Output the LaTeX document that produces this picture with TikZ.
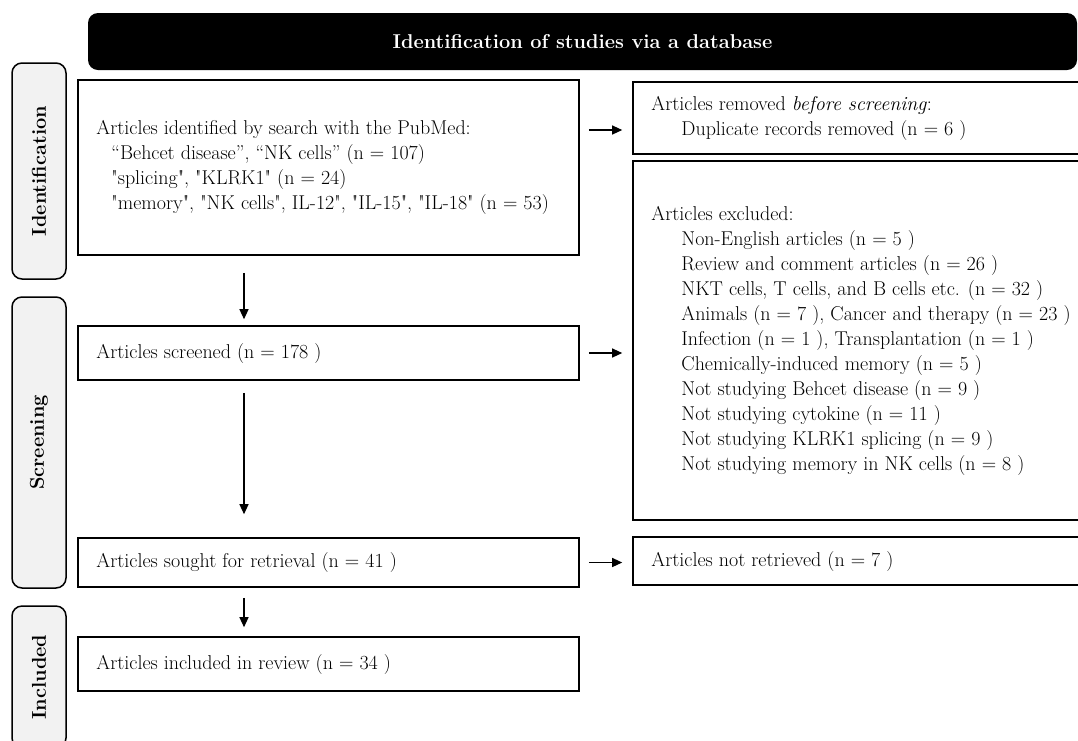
\documentclass[tikz,border=0pt]{standalone}
\usepackage{fontspec}
\usetikzlibrary{arrows.meta}
\definecolor{sidegray}{HTML}{F2F2F2}
\newcommand\mfs{\fontsize{20}{25}\selectfont}
\newcommand\sq{\textquotedbl}
\begin{document}
\begin{tikzpicture}[x=1pt,y=-1pt,
  hdr/.style={fill=black, rounded corners=10pt, text=white, font=\mfs\bfseries, inner sep=0pt},
  side/.style={draw, line width=1.5pt, fill=sidegray, rounded corners=10pt, rotate=90, minimum height=54pt, font=\mfs\bfseries, inner sep=0pt},
  mbox/.style={draw, line width=1.6pt, minimum width=501pt, inner sep=0pt},
  rbox/.style={mbox, minimum width=467pt},
  txt/.style={anchor=west, align=left, inner sep=0pt, font=\mfs},
  arr/.style={line width=1.2pt, -{Triangle[length=10pt,width=9pt]}}
]
\useasboundingbox (0,0) rectangle (1078,740);
\clip (0,0) rectangle (1078,740);

% header
\node[hdr, minimum width=989pt, minimum height=57pt] (hd) at (582.5,41.5) {Identification of studies via a database};

% side labels
\node[side, minimum width=216pt] (sid) at (39,171) {Identification};
\node[side, minimum width=291pt] (ssc) at (39,442.5) {Screening};
\node[side, minimum width=142pt] (sin) at (39,677) {Included};

% left boxes
\node[mbox, minimum height=175pt] (id) at (328.5,167.5) {};
\node[mbox, minimum height=54pt] (sc) at (328.5,353) {};
\node[mbox, minimum height=49pt] (so) at (328.5,562.5) {};
\node[mbox, minimum height=54pt] (in) at (328.5,664) {};

% right boxes
\node[rbox, minimum height=72pt] (rm) at (866.5,118) {};
\node[rbox, minimum height=359pt] (ex) at (866.5,340.5) {};
\node[rbox, minimum height=48pt] (nr) at (866.5,561) {};

% texts
\node[txt] (idt) at ([xshift=19pt]id.west) {Articles identified by search with the PubMed:\\
\hspace*{15pt}“Behcet disease”, “NK cells” (n = 107)\\
\hspace*{15pt}\sq splicing\sq, \sq KLRK1\sq\ (n = 24)\\
\hspace*{15pt}\sq memory\sq, \sq NK cells\sq, IL-12\sq, \sq IL-15\sq, \sq IL-18\sq\ (n = 53)};
\node[txt] (sct) at ([xshift=19pt]sc.west) {Articles screened (n = 178 )};
\node[txt] (sot) at ([xshift=19pt]so.west) {Articles sought for retrieval (n = 41 )};
\node[txt] (int) at ([xshift=19pt]in.west) {Articles included in review (n = 34 )};
\node[txt] (rmt) at ([xshift=19pt]rm.west) {Articles removed \textit{before screening}:\\
\hspace*{30pt}Duplicate records removed (n = 6 )};
\node[txt] (ext) at ([xshift=19pt]ex.west) {Articles excluded:\\
\hspace*{30pt}Non-English articles (n = 5 )\\
\hspace*{30pt}Review and comment articles (n = 26 )\\
\hspace*{30pt}NKT cells, T cells, and B cells etc. (n = 32 )\\
\hspace*{30pt}Animals (n = 7 ), Cancer and therapy (n = 23 )\\
\hspace*{30pt}Infection (n = 1 ), Transplantation (n = 1 )\\
\hspace*{30pt}Chemically-induced memory (n = 5 )\\
\hspace*{30pt}Not studying Behcet disease (n = 9 )\\
\hspace*{30pt}Not studying cytokine (n = 11 )\\
\hspace*{30pt}Not studying KLRK1 splicing (n = 9 )\\
\hspace*{30pt}Not studying memory in NK cells (n = 8 )};
\node[txt] (nrt) at ([xshift=19pt]nr.west) {Articles not retrieved (n = 7 )};

% connectors
\coordinate (vx) at (244,0);
\coordinate (h1) at (0,130);
\draw[arr, shorten <=17pt, shorten >=6pt] (id.south -| vx) -- (sc.north -| vx);
\draw[arr, shorten <=12pt, shorten >=23pt] (sc.south -| vx) -- (so.north -| vx);
\draw[arr, shorten <=10pt, shorten >=9pt] (so.south -| vx) -- (in.north -| vx);
\draw[arr, shorten <=9pt, shorten >=10pt] (id.east |- h1) -- (rm.west |- h1);
\draw[arr, shorten <=9pt, shorten >=10pt] (sc.east) -- (ex.west |- sc.east);
\draw[arr, shorten <=9pt, shorten >=10pt] (so.east) -- (nr.west |- so.east);
\end{tikzpicture}
\end{document}
